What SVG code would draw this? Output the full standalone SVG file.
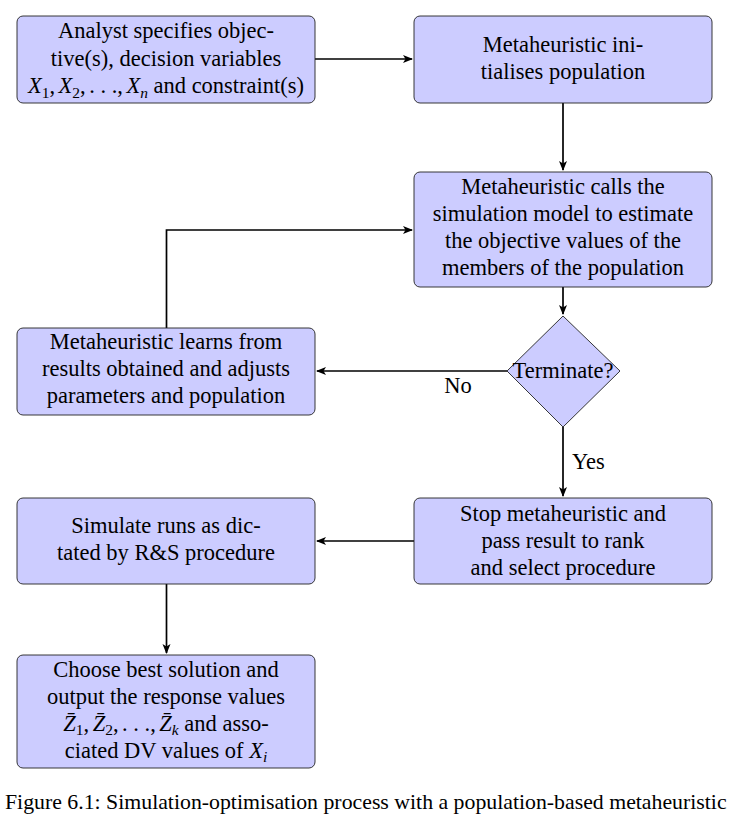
<svg xmlns="http://www.w3.org/2000/svg" width="732" height="825" viewBox="0 0 732 825">
<style>
.box{fill:#ccccff;stroke:#222;stroke-width:0.9}
text{font-family:'Liberation Serif','Times New Roman',serif;fill:#000}
.t{font-size:22.5px;text-anchor:middle}
.cap{font-size:21.8px}
.c{fill:none;stroke:#000;stroke-width:1.7}
.lbl{font-size:22.5px}
.i{font-style:italic}
.s{font-size:15.5px}
</style>
<defs>
<marker id="ah" markerUnits="userSpaceOnUse" markerWidth="12" markerHeight="10" refX="9" refY="5" orient="auto">
<path d="M0,1 L10,5 L0,9 L2.5,5 z" fill="#000"/>
</marker>
</defs>
<rect width="732" height="825" fill="#fff"/>
<g id="connectors">
<path class="c" d="M315,59 H412" marker-end="url(#ah)"/>
<path class="c" d="M563,103 V170" marker-end="url(#ah)"/>
<path class="c" d="M563,287 V314" marker-end="url(#ah)"/>
<path class="c" d="M507,371 H317" marker-end="url(#ah)"/>
<path class="c" d="M166.5,328 V230 H412" marker-end="url(#ah)"/>
<path class="c" d="M563,427 V496" marker-end="url(#ah)"/>
<path class="c" d="M414,541 H317" marker-end="url(#ah)"/>
<path class="c" d="M166.5,584 V653" marker-end="url(#ah)"/>
<text class="lbl" x="458" y="393" text-anchor="middle">No</text>
<text class="lbl" x="572" y="469">Yes</text>
</g>
<g id="n1">
<rect class="box" x="17" y="16" width="298" height="87" rx="6"/>
<text class="t" x="166" y="38">Analyst specifies objec-</text>
<text class="t" x="166" y="65.5">tive(s), decision variables</text>
<text class="t" x="166" y="93"><tspan class="i">X</tspan><tspan class="s" dy="4.5">1</tspan><tspan dy="-4.5">,</tspan><tspan class="i" dx="3.5">X</tspan><tspan class="s" dy="4.5">2</tspan><tspan dy="-4.5">,</tspan><tspan dx="3.5">. . .</tspan><tspan>,</tspan><tspan class="i" dx="3.5">X</tspan><tspan class="s i" dy="4.5">n</tspan><tspan dy="-4.5"> and constraint(s)</tspan></text>
</g>
<g id="n2">
<rect class="box" x="414" y="16" width="298" height="87" rx="6"/>
<text class="t" x="563" y="52">Metaheuristic ini-</text>
<text class="t" x="563" y="78.5">tialises population</text>
</g>
<g id="n3">
<rect class="box" x="414" y="172" width="298" height="115" rx="6"/>
<text class="t" x="563" y="193.5">Metaheuristic calls the</text>
<text class="t" x="563" y="220.5">simulation model to estimate</text>
<text class="t" x="563" y="247.5">the objective values of the</text>
<text class="t" x="563" y="274.5">members of the population</text>
</g>
<g id="n4">
<polygon class="box" points="563,316 620,371 563,427 507,371"/>
<text class="t" x="563" y="378">Terminate?</text>
</g>
<g id="n5">
<rect class="box" x="17" y="328" width="298" height="87" rx="6"/>
<text class="t" x="166" y="349">Metaheuristic learns from</text>
<text class="t" x="166" y="376">results obtained and adjusts</text>
<text class="t" x="166" y="403">parameters and population</text>
</g>
<g id="n6">
<rect class="box" x="414" y="498" width="298" height="86" rx="6"/>
<text class="t" x="563" y="521">Stop metaheuristic and</text>
<text class="t" x="563" y="548">pass result to rank</text>
<text class="t" x="563" y="575">and select procedure</text>
</g>
<g id="n7">
<rect class="box" x="17" y="498" width="298" height="86" rx="6"/>
<text class="t" x="166" y="533">Simulate runs as dic-</text>
<text class="t" x="166" y="560">tated by R&amp;S procedure</text>
</g>
<g id="n8">
<rect class="box" x="17" y="655" width="298" height="113" rx="6"/>
<text class="t" x="166" y="676.5">Choose best solution and</text>
<text class="t" x="166" y="703.5">output the response values</text>
<text class="t" x="166" y="730.5"><tspan class="i">Z̄</tspan><tspan class="s" dy="4.5">1</tspan><tspan dy="-4.5">,</tspan><tspan class="i" dx="3.5">Z̄</tspan><tspan class="s" dy="4.5">2</tspan><tspan dy="-4.5">,</tspan><tspan dx="3.5">. . .</tspan><tspan>,</tspan><tspan class="i" dx="3.5">Z̄</tspan><tspan class="s i" dy="4.5">k</tspan><tspan dy="-4.5"> and asso-</tspan></text>
<text class="t" x="166" y="757.5">ciated DV values of <tspan class="i">X</tspan><tspan class="s i" dy="4.5">i</tspan></text>
</g>
<text class="cap" x="5" y="809">Figure 6.1: Simulation-optimisation process with a population-based metaheuristic</text>
</svg>
